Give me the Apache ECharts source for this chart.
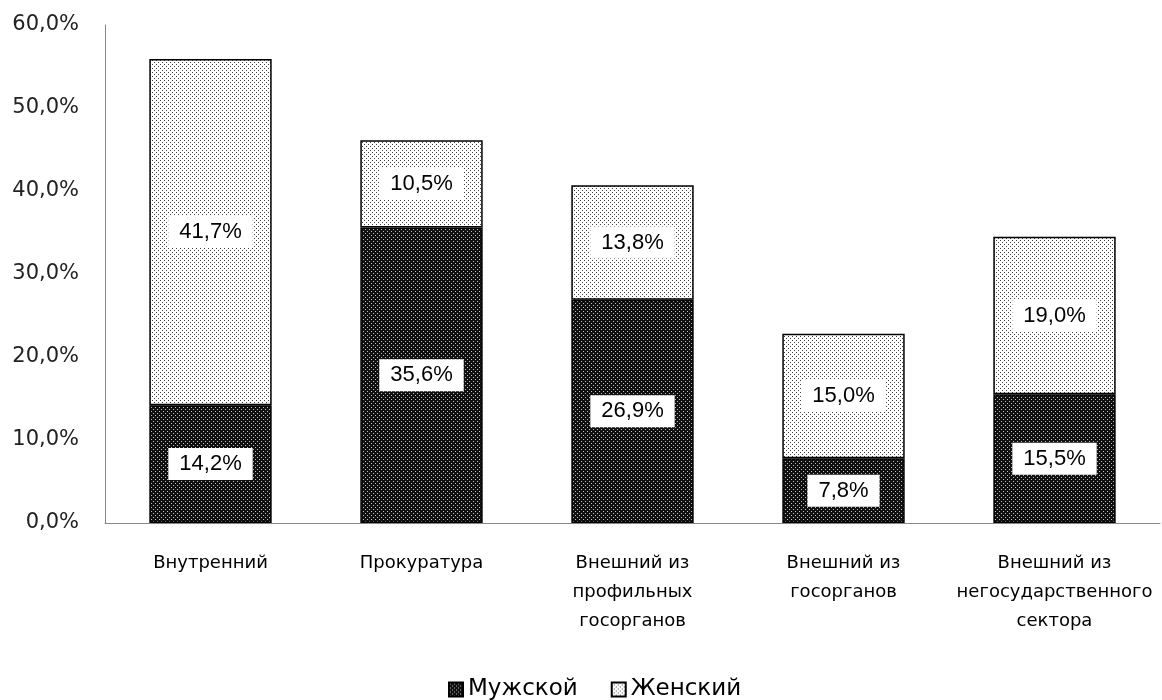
<!DOCTYPE html>
<html><head><meta charset="utf-8">
<script src="https://cdn.jsdelivr.net/npm/echarts@6/dist/echarts.min.js"></script>
<style>html,body{margin:0;padding:0;background:#fff}#c{width:1162px;height:700px}</style>
</head><body><div id="c"></div>
<script>
var categories = ['Внутренний', 'Прокуратура', 'Внешний из\nпрофильных\nгосорганов', 'Внешний из\nгосорганов', 'Внешний из\nнегосударственного\nсектора'];
var male = [14.2, 35.6, 26.9, 7.8, 15.5];
var female = [41.7, 10.5, 13.8, 15.0, 19.0];
var seriesNames = ['Мужской', 'Женский'];
var yTicks = [0, 10, 20, 30, 40, 50, 60];

function makePattern(bg, dot, dots) {
  var c = document.createElement('canvas');
  c.width = 4; c.height = 4;
  var ctx = c.getContext('2d');
  ctx.fillStyle = bg; ctx.fillRect(0, 0, 4, 4);
  ctx.fillStyle = dot;
  dots.forEach(function (d) { ctx.fillRect(d[0], d[1], 1, 1); });
  return c;
}
var darkPat = makePattern('#111', '#bbb', [[1, 1], [3, 3]]);
var lightPat = makePattern('#fff', '#444', [[0, 0], [2, 2]]);

function fmt(v) { return v.toFixed(1).replace('.', ',') + '%'; }

var chart = echarts.init(document.getElementById('c'));
var labelCfg = {
  show: true, position: 'inside', color: '#000', fontFamily: 'Liberation Sans', fontSize: 22,
  backgroundColor: '#fff', padding: [5, 11, 5, 11],
  formatter: function (p) { return fmt(p.value); }
};
chart.setOption({
  animation: false,
  grid: { left: 105, right: 2, top: 25, bottom: 177, containLabel: false },
  legend: {
    top: 673, left: 443, icon: 'rect', itemWidth: 14, itemHeight: 14, itemGap: 33,
    textStyle: { fontFamily: 'DejaVu Sans', fontSize: 23, color: '#000' },
    data: seriesNames
  },
  xAxis: {
    type: 'category', data: categories,
    axisLine: { lineStyle: { color: '#888' } }, axisTick: { show: false },
    axisLabel: { interval: 0, margin: 26, fontFamily: 'DejaVu Sans', fontSize: 18, color: '#000', lineHeight: 29, verticalAlign: 'top' }
  },
  yAxis: {
    type: 'value', min: 0, max: 60, interval: 10,
    splitLine: { show: false },
    axisLine: { show: true, lineStyle: { color: '#888' } }, axisTick: { show: false },
    axisLabel: { margin: 26, fontFamily: 'DejaVu Sans', fontSize: 21, color: '#222',
      formatter: function (v) { return yTicks.indexOf(v) >= 0 ? fmt(v) : ''; } }
  },
  series: [
    { name: seriesNames[0], type: 'bar', stack: 's', data: male, barWidth: '58%',
      itemStyle: { color: { image: darkPat, repeat: 'repeat' }, borderColor: '#000', borderWidth: 1.5 },
      label: labelCfg },
    { name: seriesNames[1], type: 'bar', stack: 's', data: female, barWidth: '58%',
      itemStyle: { color: { image: lightPat, repeat: 'repeat' }, borderColor: '#000', borderWidth: 1.5 },
      label: labelCfg }
  ]
});
</script></body></html>
